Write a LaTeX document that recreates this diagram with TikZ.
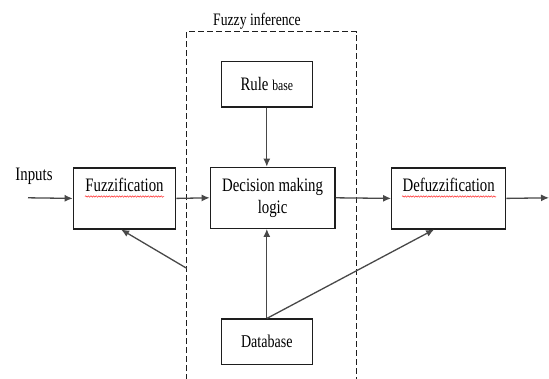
\documentclass[tikz,border=0pt]{standalone}
\usepackage{fontspec}
\setmainfont{Liberation Serif}[FakeStretch=0.78]
\usetikzlibrary{arrows.meta,decorations.pathmorphing}
\definecolor{boxline}{HTML}{1E1E1E}
\definecolor{arrline}{HTML}{484848}
\tikzset{
  blk/.style={draw=boxline, line width=1.2pt, inner sep=0pt, font=\fontsize{19}{22}\selectfont},
  conn/.style={draw=arrline, line width=1.3pt, -{Latex[length=8pt,width=7pt]}},
  dashbox/.style={draw=boxline, line width=1pt, dash pattern=on 6pt off 3pt},
  squiggle/.style={draw=red!85!white, line width=0.5pt, decorate, decoration={snake, amplitude=0.7pt, segment length=2.6pt}},
  lbl/.style={inner sep=0pt, font=\fontsize{19}{22}\selectfont}
}
\begin{document}
\begin{tikzpicture}[x=1pt,y=-1pt]
\useasboundingbox (0,0) rectangle (549,378);
% dashed fuzzy inference frame
\draw[dashbox] (186.7,380) -- (186.7,31.5) -- (356.7,31.5) -- (356.7,380);
\node[lbl, font=\fontsize{17.5}{20}\selectfont] (fititle) at (257,21) {Fuzzy inference};
% boxes
\node[blk, minimum width=102.4pt, text height=23.7pt, text depth=37.3pt] (fuz) at (124.5,167.3) [anchor=north] {Fuzzification};
\node[blk, minimum width=124.7pt, minimum height=61pt, align=center] (dec) at (272.6,197.8) {Decision making\\logic};
\node[blk, minimum width=114pt, text height=23.7pt, text depth=37.3pt] (defuzz) at (448.7,167.3) [anchor=north] {Defuzzification};
\node[blk, minimum width=91pt, minimum height=45.7pt] (rule) at (266.8,84.2) {Rule {\fontsize{15}{17}\selectfont base}\hspace{14pt}};
\node[blk, minimum width=91pt, minimum height=45.3pt, font=\fontsize{18}{20}\selectfont] (db) at (266.8,341.7) {Database};
% spell-check underlines
\draw[squiggle] (85,196.5) -- (164,196.5);
\draw[squiggle] (402,196.5) -- (496,196.5);
% free ends
\coordinate (in) at (28,197.8);
\coordinate (out) at (549,197.8);
\coordinate (fb) at (186.7,268.3);
\node[lbl] (inputs) at (34,176.5) {Inputs};
% connectors
\draw[conn] (in) -- (fuz.west);
\draw[conn] (fuz.east) -- (dec.west);
\draw[conn] (dec.east) -- (defuzz.west);
\draw[conn] (defuzz.east) -- (out);
\draw[conn] (rule.south) -- (rule.south |- dec.north);
\draw[conn] (db.north) -- (db.north |- dec.south);
\draw[conn] (db.north) -- ([xshift=43pt]defuzz.south west);
\draw[conn] (fb) -- ([xshift=48.4pt]fuz.south west);
\end{tikzpicture}
\end{document}
